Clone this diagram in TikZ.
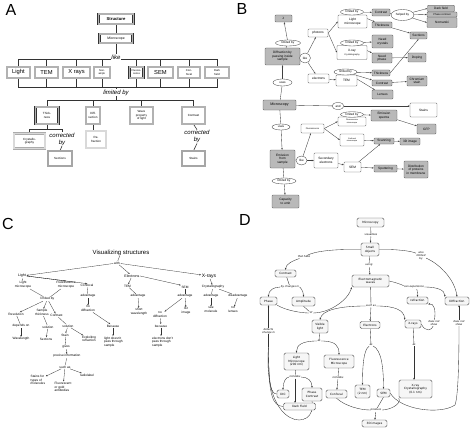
\documentclass[tikz,border=0pt]{standalone}
\usepackage{fontspec}
\setmainfont{Liberation Sans}
\newfontfamily\dvfont{DejaVu Sans}
\usetikzlibrary{arrows.meta,shapes.geometric}
\newcommand{\fsz}[2]{\fontsize{#1}{#2}\selectfont}
\pgfdeclarelayer{bottom}
\pgfdeclarelayer{back}
\pgfsetlayers{bottom,back,main}
\begin{document}
\begin{tikzpicture}[x=1pt,y=-1pt,
  plab/.style={font=\fsz{16}{18}, inner sep=0pt},
  abox/.style={draw=black!80, line width=0.5pt, double=gray!60, double distance=1.6pt, fill=white, inner sep=0.4pt, align=center, font=\fsz{3}{3.5}},
  albox/.style={abox, draw=gray!65, double=gray!30},
  alab/.style={font=\fsz{6}{7}\itshape, fill=white, inner sep=0.4pt, align=center},
  aln/.style={line width=0.6pt, draw=black!80},
  bg/.style={draw=black!65, fill=gray!55, rounded corners=0.8pt, line width=0.35pt, align=center, inner sep=0.4pt, font=\fsz{3.2}{3.6}},
  bw/.style={bg, fill=white},
  be/.style={ellipse, draw=black!70, fill=white, line width=0.35pt, inner sep=0pt, font=\fsz{3}{3.4}},
  bln/.style={line width=0.35pt, draw=black!75},
  barr/.style={bln, -{Stealth[length=2pt,width=1.5pt]}},
  ct/.style={font=\fsz{3.2}{3.7}, inner sep=0.5pt, align=center},
  cln/.style={line width=0.3pt, draw=black!80},
  carr/.style={cln, -{Stealth[length=1.8pt,width=1.4pt]}},
  dbox/.style={draw=black!70, fill=gray!7, rounded corners=1.5pt, line width=0.4pt, align=center, inner sep=0.6pt, font=\dvfont\fsz{2.9}{3.5}},
  dlab/.style={font=\dvfont\itshape\fsz{2.6}{3.1}, align=center, fill=white, inner sep=0.3pt},
  dln/.style={line width=0.35pt, draw=black!80},
  darr/.style={dln, -{Stealth[length=2pt,width=1.6pt]}}
]
\useasboundingbox (0,0) rectangle (474,428);
\begin{pgfonlayer}{bottom}
\fill[white] (0,0) rectangle (474,428);
\end{pgfonlayer}

%%%%%%%%%%%%%%%% PANEL A
\node[plab] (Alet) at (11,10) {A};
\node[abox, minimum width=35, minimum height=10, font=\fsz{4.2}{5}\bfseries] (Astr) at (116,19) {Structure};
\node[abox, minimum width=33, minimum height=9, font=\fsz{3.4}{4}] (Amic) at (116,38.5) {Microscope};
\coordinate (Ab1) at (116,59);
\coordinate (Ab2) at (116,87);
\coordinate (Ab3) at (116,100);
\node[abox, minimum width=23, minimum height=11, font=\fsz{5.8}{7}] (Alight) at (18.5,72.5) {Light};
\node[abox, minimum width=23, minimum height=11, font=\fsz{5.8}{7}] (Atem) at (46.5,72.5) {TEM};
\node[abox, minimum width=27, minimum height=11, font=\fsz{5.8}{7}] (Axr) at (76.5,72.5) {X rays};
\node[abox, minimum width=16, minimum height=11, font=\fsz{2.6}{3}] (Anon) at (102,72.5) {Non-\\ampli.};
\node[abox, minimum width=14, minimum height=11, font=\fsz{2.6}{3}] (Aflu) at (136.5,72.5) {Fluores-\\cence};
\node[abox, minimum width=25, minimum height=11, font=\fsz{5.8}{7}] (Asem) at (160.5,72.5) {SEM};
\node[abox, minimum width=22, minimum height=11, font=\fsz{2.8}{3.3}] (Acon) at (189,72.5) {Con-\\focal};
\node[abox, minimum width=24, minimum height=11, font=\fsz{2.8}{3.3}] (Adark) at (217,72.5) {Dark\\field};
\node[abox, minimum width=23, minimum height=17] (Athk) at (47,115.5) {Thick-\\ness};
\node[abox, minimum width=14, minimum height=17] (Adif) at (93,115.5) {Diff-\\raction};
\node[abox, minimum width=23, minimum height=17] (Awav) at (141.5,115.5) {Wave\\property\\of light};
\node[abox, minimum width=23, minimum height=17] (Actr) at (193.5,115.5) {Contrast};
\coordinate (Ab4) at (47,129);
\node[albox, minimum width=31, minimum height=15] (Acry) at (29.5,141) {Crystallo-\\graphy};
\node[alab] (Acor1) at (62,139) {corrected\\by};
\node[abox, minimum width=24, minimum height=15, draw=black!90, double=gray!70] (Asec) at (60,158.5) {Sections};
\node[albox, minimum width=20, minimum height=17] (Aref) at (96,139.5) {Re-\\fraction};
\node[alab] (Acor2) at (197,136.5) {corrected\\by};
\node[abox, minimum width=23, minimum height=15, draw=black!90, double=gray!70] (Asta) at (193.5,158.5) {Stains};
\node[alab] (Alike) at (116,57) {like};
\node[alab] (Alim) at (116,92.5) {limited by};
\begin{pgfonlayer}{back}
\draw[aln] (Astr) -- (Amic);
\draw[aln] (Amic.south) -- (Ab1);
\foreach \n in {Alight,Atem,Axr,Anon,Aflu,Asem,Acon,Adark} {
  \draw[aln] (\n.north) |- (Ab1);
  \draw[aln] (\n.south) |- (Ab2);
}
\draw[aln] (Ab2) -- (Ab3);
\foreach \n in {Athk,Adif,Awav,Actr} { \draw[aln] (\n.north) |- (Ab3); }
\draw[aln] (Athk.south) -- (Ab4);
\draw[aln] (Acry.north) |- (Ab4);
\draw[aln] (Acor1.north) |- (Ab4);
\draw[aln] (Acor1.south) -- (Asec.north);
\draw[aln] (Adif.south) -- (Adif.south |- Aref.north);
\draw[aln] (Actr.south) -- (Acor2.north);
\draw[aln] (Acor2.south) -- (Asta.north);
\end{pgfonlayer}

%%%%%%%%%%%%%%%% PANEL B
\node[plab] (Blet) at (242,9) {B};
\node[bg, minimum width=17, minimum height=7] (Blam) at (283.5,18.5) {λ};
\node[be, minimum width=25, minimum height=6] (Bl1) at (288,43) {limited by};
\node[bg, minimum width=35, minimum height=17] (Bdif) at (282.5,56.5) {Diffraction by\\passing inside\\sample};
\node[be, minimum width=11, minimum height=10] (Blike1) at (305,58) {like};
\node[bw, minimum width=20, minimum height=8] (Bph) at (318,33) {photons};
\node[bw, minimum width=21, minimum height=9] (Bel) at (318.5,78.5) {electrons};
\node[be, minimum width=19, minimum height=7] (Bu1) at (282.5,82.5) {uses};
\node[bg, minimum width=33, minimum height=10, font=\fsz{3.6}{4}] (Bmic) at (279.5,105) {Microscopy};
\node[bw, minimum width=29, minimum height=13] (Blm) at (352.5,21.5) {Light\\microscope};
\node[be, minimum width=23, minimum height=6] (Bl2) at (352,12) {limited by};
\node[bg, minimum width=18, minimum height=7] (Bc1) at (381,12.5) {Contrast};
\node[be, minimum width=23, minimum height=11] (Bhb) at (402.5,15) {helped by};
\node[bg, minimum width=27, minimum height=6.5] (Bdf) at (441,8.5) {Dark field};
\node[bg, minimum width=30, minimum height=5, font=\fsz{2.6}{3}] (Bpc) at (442,14.5) {Phase contrast};
\node[bg, minimum width=30, minimum height=10] (Bno) at (442,22.5) {Nomarski};
\node[bg, minimum width=20, minimum height=6] (Bt1) at (382,25) {Thickness};
\node[bg, minimum width=17, minimum height=7] (Bsec) at (418.5,35.5) {Sections};
\node[bw, minimum width=30, minimum height=14] (Bxr) at (352,52.5) {X-ray\\{\fsz{2.2}{2.6}Crystallography}};
\node[be, minimum width=23, minimum height=6] (Bl3) at (352,43) {limited by};
\node[bg, minimum width=21, minimum height=13] (Bnc) at (382.5,41.5) {Need\\crystals};
\node[bg, minimum width=20, minimum height=10] (Bnp) at (382,58) {Need\\phase};
\node[bg, minimum width=18, minimum height=9] (Bdop) at (417,57.5) {Doping};
\node[bw, minimum width=21, minimum height=11] (Btem) at (346.5,80.5) {TEM};
\node[be, minimum width=23, minimum height=6] (Bl4) at (345.5,72) {limited by};
\node[bg, minimum width=18, minimum height=6] (Bt2) at (381,73) {Thickness};
\node[bg, minimum width=20, minimum height=6] (Bc2) at (382,83) {Contrast};
\node[bg, minimum width=20, minimum height=10] (Bcr) at (417,81) {Chromium\\stain};
\node[bg, minimum width=21, minimum height=9] (Blen) at (382.5,94.5) {Lenses};
\node[be, minimum width=12, minimum height=7] (Band) at (338,106) {and};
\node[bw, minimum width=27, minimum height=14] (Bst) at (423.5,110) {Stains};
\node[bw, minimum width=28, minimum height=9, font=\fsz{2}{2.4}] (Bfm) at (352,121.5) {Fluorescence\\microscope};
\node[be, minimum width=23, minimum height=5.5] (Bl5) at (352,114.5) {limited by};
\node[bg, minimum width=26, minimum height=11] (Bes) at (384,115.5) {Emission\\spectra};
\node[bg, minimum width=19, minimum height=10] (Bgfp) at (426.5,129) {GFP};
\node[be, minimum width=18, minimum height=6] (Bu2) at (281,127) {uses};
\node[bw, minimum width=23, minimum height=9, font=\fsz{2.2}{2.6}] (Bfl) at (312.5,128.5) {Fluorescence};
\node[bw, minimum width=24, minimum height=12, font=\fsz{2}{2.4}] (Bcm) at (352,140) {Confocal\\microscope};
\node[bg, minimum width=20, minimum height=6] (Bsc) at (384,141) {Scanning};
\node[bg, minimum width=20, minimum height=7] (B3d) at (410,141.5) {3D image};
\node[bg, minimum width=25, minimum height=18] (Bem) at (282.5,159) {Emission\\from\\sample};
\node[be, minimum width=11, minimum height=9] (Blike2) at (301.5,160.5) {like};
\node[bw, minimum width=24, minimum height=15] (Bse) at (326,160.5) {Secondary\\electrons};
\node[bw, minimum width=17, minimum height=10] (Bsem) at (352.5,167) {SEM};
\node[bg, minimum width=23, minimum height=7] (Bsp) at (385.5,168.5) {Sputtering};
\node[bg, minimum width=24, minimum height=17] (Bdis) at (416,169.5) {Distribution\\of proteins\\in membrane};
\node[be, minimum width=24, minimum height=6] (Bl6) at (284,181) {limited by};
\node[bg, minimum width=27, minimum height=13] (Bcap) at (285.5,201.5) {Capacity\\to emit};
\begin{pgfonlayer}{back}
\draw[bln] (Bdif) -- (Bl1);
\draw[barr] (Bl1) -- (Blam);
\draw[bln] (Bmic) -- (Bu1);
\draw[barr] (Bu1) -- (Bdif);
\draw[bln] (Bdif) -- (Blike1);
\draw[barr] (Blike1) -- (Bph);
\draw[barr] (Blike1) -- (Bel);
\draw[barr] (Bph.east) -- (Blm.west);
\draw[barr] (Bph.east) -- (Bxr.west);
\draw[barr] (Bel) -- (Btem);
\draw[barr] (Bl2) -- (Bc1);
\draw[barr] (Bl2) -- (Bt1);
\draw[bln] (Bc1) -- (Bhb);
\draw[barr] (Bhb) -- (Bdf.west);
\draw[barr] (Bhb) -- (Bpc.west);
\draw[barr] (Bhb) -- (Bno.west);
\draw[barr] (Bt1) -- (Bsec);
\draw[barr] (Bl3) -- (Bnc);
\draw[barr] (Bl3) -- (Bnp);
\draw[barr] (Bnp) -- (Bdop);
\draw[barr] (Bl4) -- (Bt2);
\draw[barr] (Bl4) -- (Bc2);
\draw[barr] (Bl4) -- (Blen);
\draw[barr] (Bt2.east) -- (Bsec.south);
\draw[barr] (Bc2) -- (Bcr);
\draw[bln] (Bmic) -- (Band);
\draw[barr] (Band.east) -- (Band.east -| Bst.west);
\draw[bln] (Bmic) -- (Bu2);
\draw[barr] (Bu2) -- (Bem);
\draw[bln] (Bem) -- (Blike2);
\draw[barr] (Blike2) -- (Bfl);
\draw[barr] (Blike2) -- (Bse);
\draw[barr] (Bfl.east) -- (Bfm.west);
\draw[barr] (Bfl.east) -- (Bcm.west);
\draw[barr] (Bl5) -- (Bes);
\draw[barr] (Bes) -- (Bgfp);
\draw[barr] (Bcm) -- (Bsc);
\draw[barr] (Bsc) -- (B3d);
\draw[barr] (Bse) -- (Bsem);
\draw[barr] (Bsem) -- (Bsc);
\draw[barr] (Bsem) -- (Bsp);
\draw[barr] (Bsp) -- (Bdis);
\draw[bln] (Bem) -- (Bl6);
\draw[barr] (Bl6) -- (Bcap);
\end{pgfonlayer}

%%%%%%%%%%%%%%%% PANEL C
\node[plab] (Clet) at (8,224) {C};
\node[ct, font=\fsz{6}{7}] (Cvis) at (121,252.5) {Visualizing structures};
\node[ct] (Cwith) at (117,263) {with};
\node[ct, font=\fsz{3.6}{4}] (Clight) at (22,276) {Light};
\node[ct] (Clm) at (23,285) {Light\\microscope};
\node[ct] (Cfm) at (66,285) {Fluorescence\\microscope};
\node[ct] (Cconf) at (87,285.5) {Confocal};
\node[ct] (Cadv1) at (88,296) {advantage};
\node[ct] (Cnod1) at (88,309) {no\\diffraction};
\node[ct] (Climby) at (47.5,299) {limited by};
\node[ct] (Cres) at (16,314) {Resolution};
\node[ct] (Cthk) at (42,312.5) {Sample\\thickness};
\node[ct] (Ccon) at (56.5,315.5) {Contrast};
\node[ct] (Cdep) at (21,326) {depends on};
\node[ct] (Cwave) at (21,339) {Wavelength};
\node[ct] (Csol1) at (48,327) {solution};
\node[ct] (Csec) at (46,339) {Sections};
\node[ct] (Csol2) at (68,326) {solution};
\node[ct] (Cstain) at (65,335) {Stain};
\node[ct] (Cexp) at (89,339) {Exploiting\\refraction};
\node[ct] (Cbec1) at (113,326) {Because};
\node[ct, align=left, anchor=west] (Cldp) at (103.5,342) {light doesn't\\pass through\\sample};
\node[ct] (Cgiv) at (66,347) {gives};
\node[ct] (Cpre) at (67,356) {precise information};
\node[ct] (Csuch) at (65,367) {such as};
\node[ct, align=left, anchor=west] (Cstf) at (30,380) {Stains for\\types of\\molecules};
\node[ct, align=left, anchor=west] (Cfga) at (54,387) {Fluorescent\\or gold\\antibodies};
\node[ct] (Crad) at (87,375) {radiolabel};
\node[ct, font=\fsz{3.6}{4}] (Celec) at (132,276) {Electrons};
\node[ct] (Ctem) at (127.5,286) {TEM};
\node[ct] (Cadv2) at (138,296) {advantage};
\node[ct] (Cshort) at (139,312) {short\\wavelength};
\node[ct] (Csem) at (185,287) {SEM};
\node[ct] (Cadv3) at (185,296) {advantage};
\node[ct] (C3d) at (186,311) {3D\\image};
\node[ct] (Cnod2) at (160,315) {no\\diffraction};
\node[ct] (Cbec2) at (161,326) {because};
\node[ct, align=left, anchor=west] (Cedp) at (151.5,342) {electrons don't\\pass through\\sample};
\node[ct, font=\fsz{5}{6}] (Cxr) at (209,276) {X-rays};
\node[ct] (Ccry) at (213,287) {Crystallography};
\node[ct] (Cadv4) at (211,296) {advantage};
\node[ct] (Csee) at (211,310) {see\\molecule};
\node[ct] (Cdis) at (238,296) {disadvantage};
\node[ct] (Cnol) at (233,310) {no\\lenses};
\begin{pgfonlayer}{back}
\draw[cln] (Cvis) -- (Cwith);
\draw[carr] (Cwith) -- (Clight);
\draw[carr] (Cwith) -- (Celec);
\draw[carr] (Cwith) -- (Cxr);
\draw[cln] (Clight) -- (Clm);
\draw[carr] (Clight.east) -- (Cfm.north);
\draw[carr] (Clight.east) -- (Cconf.north);
\draw[cln] (Clm) -- (Climby);
\draw[cln] (Cfm) -- (Climby);
\draw[carr] (Climby) -- (Cres);
\draw[carr] (Climby) -- (Cthk);
\draw[carr] (Climby) -- (Ccon);
\draw[cln] (Cres) -- (Cdep);
\draw[carr] (Cdep) -- (Cwave);
\draw[cln] (Cthk) -- (Csol1);
\draw[carr] (Csol1) -- (Csec);
\draw[cln] (Ccon) -- (Csol2);
\draw[carr] (Csol2) -- (Cstain);
\draw[carr] (Csol2) -- (Cexp);
\draw[cln] (Cstain) -- (Cgiv);
\draw[carr] (Cgiv) -- (Cpre);
\draw[cln] (Cpre) -- (Csuch);
\draw[carr] (Csuch) -- (Cstf);
\draw[carr] (Csuch) -- (Cfga);
\draw[carr] (Csuch) -- (Crad);
\draw[cln] (Cconf) -- (Cadv1);
\draw[carr] (Cadv1) -- (Cnod1);
\draw[carr] (Cnod1) -- (Cbec1);
\draw[carr] (Cbec1) -- (Cbec1 |- Cldp.north);
\draw[carr] (Celec) -- (Ctem);
\draw[carr] (Celec.east) -- (Csem.north west);
\draw[cln] (Ctem) -- (Cadv2);
\draw[carr] (Cadv2) -- (Cshort);
\draw[cln] (Csem) -- (Cadv3);
\draw[carr] (Cadv3) -- (C3d);
\draw[carr] (Cadv3) -- (Cnod2);
\draw[carr] (Cnod2) -- (Cbec2);
\draw[carr] (Cbec2) -- (Cbec2 |- Cedp.north);
\draw[carr] (Cxr) -- (Ccry);
\draw[cln] (Ccry) -- (Cadv4);
\draw[carr] (Cadv4) -- (Csee);
\draw[cln] (Ccry) -- (Cdis);
\draw[carr] (Cdis) -- (Cnol);
\end{pgfonlayer}

%%%%%%%%%%%%%%%% PANEL D
\node[plab] (Dlet) at (245,220) {D};
\node[dbox, minimum width=27, minimum height=9] (Dmic) at (370.5,222.5) {Microscopy};
\node[dlab] (Dvis) at (371,235) {visualizes};
\node[dbox, minimum width=18, minimum height=13] (Dsmall) at (370,249.5) {Small\\objects};
\node[dlab] (Dthat) at (304,257) {that have};
\node[dlab] (Dalso) at (421,256) {also\\limited\\by};
\node[dbox, minimum width=21, minimum height=7] (Dcon) at (285.5,273.5) {Contrast};
\node[dlab] (Dusing) at (369,265) {using};
\node[dbox, minimum width=37, minimum height=12] (Dem) at (370.5,281) {Electromagnetic\\waves};
\node[dlab] (Dbych) at (290,287) {by changes in};
\node[dlab] (Dcan) at (414,287) {can experience};
\node[dbox, minimum width=17, minimum height=8] (Dph) at (268.5,301) {Phase};
\node[dbox, minimum width=23, minimum height=9] (Damp) at (303.5,301.5) {Amplitude};
\node[dlab] (Dof) at (311,313) {of};
\node[dbox, minimum width=21, minimum height=7] (Dref) at (417.5,300.5) {refraction};
\node[dbox, minimum width=24, minimum height=8] (Ddif) at (457,301) {Diffraction};
\node[dlab] (Dsuch) at (371,306) {such as};
\node[dbox, minimum width=16, minimum height=13] (Dvl) at (320,326.5) {Visible\\light};
\node[dbox, minimum width=20, minimum height=7] (Delec) at (370,325) {Electrons};
\node[dbox, minimum width=16, minimum height=8] (Dxr) at (413,324) {X-rays};
\node[dlab] (Ddns1) at (434,323) {does not\\show};
\node[dlab] (Ddns2) at (459,323) {does not\\show};
\node[dlab] (Ddet) at (268.5,331) {detects\\change in};
\node[dlab] (Das1) at (319,341) {as};
\node[dlab] (Das2) at (371,345) {as};
\node[dlab] (Das3) at (414,345) {as};
\node[dbox, minimum width=25, minimum height=17] (Dlm) at (296.5,361.5) {Light\\Microscope\\(200 nm)};
\node[dbox, minimum width=30, minimum height=13] (Dfm) at (339,361.5) {Fluorescence\\Microscope};
\node[dlab] (Dinc1) at (295,377) {includes};
\node[dlab] (Dinc2) at (338,378) {includes};
\node[dbox, minimum width=12, minimum height=8] (Ddic) at (283,394) {DIC};
\node[dbox, minimum width=32, minimum height=7] (Ddf) at (299.5,406.5) {Dark Field};
\node[dbox, minimum width=20, minimum height=13] (Dpc) at (312,394.5) {Phase\\Contrast};
\node[dbox, minimum width=21, minimum height=8] (Dconf) at (336.5,394) {Confocal};
\node[dbox, minimum width=15, minimum height=13] (Dtem) at (362.5,391.5) {TEM\\(2 nm)};
\node[dbox, minimum width=13, minimum height=8] (Dsem) at (383.5,393) {SEM};
\node[dbox, minimum width=33, minimum height=18] (Dxrc) at (415.5,389) {X-ray\\Crystallography\\(0.1 nm)};
\node[dlab] (Dprod) at (376,410) {produce};
\node[dbox, minimum width=25, minimum height=7] (D3d) at (374.5,423.5) {3D images};
\coordinate (Dj) at (268.5,347);
\begin{pgfonlayer}{back}
\draw[dln] (Dmic) -- (Dvis);
\draw[darr] (Dvis) -- (Dsmall);
\draw[dln] (Dsmall.west) .. controls (335,249) and (315,251) .. (Dthat);
\draw[darr] (Dthat) .. controls (292,261) and (286,264) .. (Dcon.north);
\draw[dln] (Dsmall.east) .. controls (395,249) and (412,251) .. (Dalso);
\draw[darr] (Dalso) .. controls (440,264) and (455,280) .. (Ddif.north);
\draw[dln] (Dsmall) -- (Dusing);
\draw[darr] (Dusing) -- (Dem);
\draw[dln] (Dcon) -- (Dbych);
\draw[darr] (Dbych) .. controls (274,287) and (268.5,290) .. (Dph.north);
\draw[darr] (Dbych) .. controls (300,287) and (303.5,291) .. (Damp.north);
\draw[dln] (Dph.south east) .. controls (285,310) and (300,313) .. (Dof);
\draw[dln] (Damp.south) -- (Dof);
\draw[darr] (Dof) .. controls (330,313) and (348,300) .. (Dem.south west);
\draw[dln] (Dem.east) .. controls (398,283) and (405,286) .. (Dcan);
\draw[darr] (Dcan) .. controls (417,289) and (417.5,292) .. (Dref.north);
\draw[darr] (Dcan) .. controls (437,287) and (445,290) .. (Ddif.north west);
\draw[dln] (Dem) -- (Dsuch);
\draw[darr] (Dsuch) .. controls (340,306) and (322,310) .. (Dvl.north);
\draw[darr] (Dsuch) -- (Delec);
\draw[darr] (Dsuch) .. controls (395,306) and (404,310) .. (Dxr.north west);
\draw[dln] (Dxr.east) .. controls (426,333) and (432,330) .. (Ddns1);
\draw[darr] (Ddns1) .. controls (436,310) and (434,303) .. (Dref.south east);
\draw[darr] (Ddns2) -- (Ddif.south -| Ddns2);
\draw[dln] (Dsem.east) .. controls (400,410) and (440,415) .. (455,405) .. controls (459,395) and (459,340) .. (Ddns2);
\draw[darr] (Ddet) -- (Dph.south);
\draw[dln] (Ddet) -- (Dj);
\draw[dln] (Ddic.west) .. controls (271,394) and (268.5,385) .. (Dj);
\draw[dln] (Ddf.west) .. controls (272,406) and (268.5,395) .. (Dj);
\draw[dln] (Dpc.south) .. controls (318,432) and (262,432) .. (Dj);
\draw[dln] (Dvl) -- (Das1);
\draw[darr] (Das1) .. controls (302,341) and (296.5,345) .. (Dlm.north);
\draw[darr] (Das1) .. controls (336,341) and (339,346) .. (Dfm.north);
\draw[dln] (Dlm) -- (Dinc1);
\draw[darr] (Dinc1) .. controls (286,377) and (283,382) .. (Ddic.north);
\draw[darr] (Dinc1.south) -- (Dinc1.south |- Ddf.north);
\draw[darr] (Dinc1) .. controls (308,377) and (312,381) .. (Dpc.north);
\draw[dln] (Dfm) -- (Dinc2);
\draw[darr] (Dinc2) -- (Dconf);
\draw[dln] (Delec) -- (Das2);
\draw[darr] (Das2) .. controls (363,350) and (362.5,370) .. (Dtem.north);
\draw[darr] (Das2) .. controls (382,350) and (383.5,370) .. (Dsem.north);
\draw[dln] (Dxr) -- (Das3);
\draw[darr] (Das3) -- (Dxrc.north -| Das3);
\draw[dln] (Dconf.south) .. controls (345,406) and (360,410) .. (Dprod);
\draw[dln] (Dsem.south) -- (Dprod);
\draw[dln] (Dxrc.south west) .. controls (402,404) and (390,410) .. (Dprod);
\draw[darr] (Dprod) -- (D3d);
\end{pgfonlayer}
\end{tikzpicture}
\end{document}
